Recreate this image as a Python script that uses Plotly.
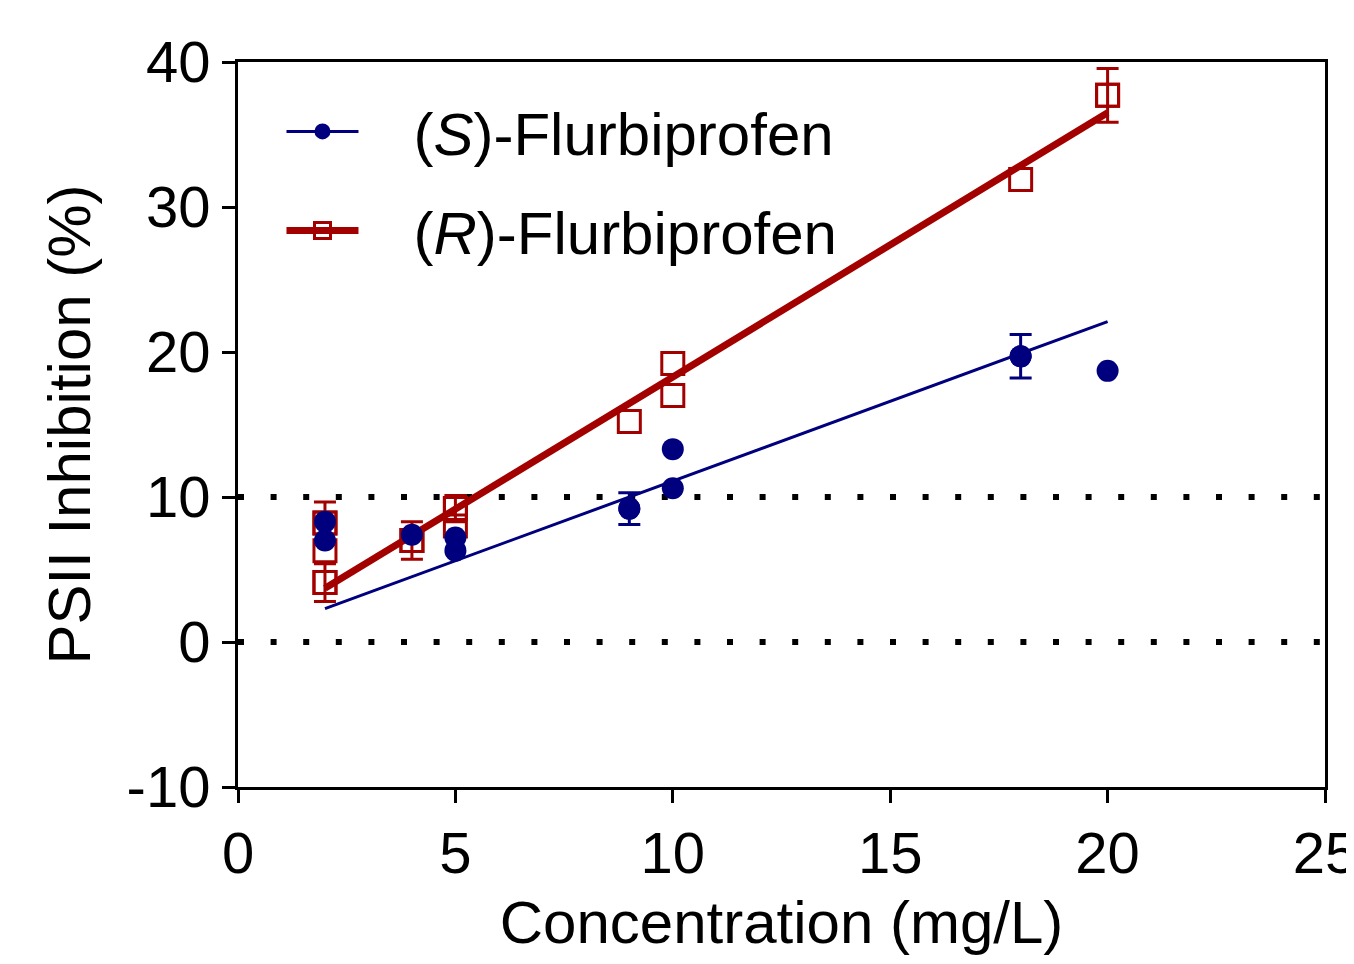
import plotly.graph_objects as go

# ---- data ----
s_x = [2, 2, 4, 5, 5, 9, 10, 10, 18, 20]
s_y = [8.3, 7.0, 7.4, 7.2, 6.3, 9.2, 13.3, 10.6, 19.7, 18.7]
s_err = [0, 0, 0, 0, 0, 1.1, 0, 0, 1.5, 0]

r_x = [2, 2, 2, 4, 5, 5, 9, 10, 10, 18, 20]
r_y = [8.2, 6.3, 4.1, 7.0, 9.2, 8.0, 15.2, 19.2, 17.0, 31.9, 37.7]
r_err = [1.45, 0, 1.3, 1.3, 0.9, 0, 0, 0, 0, 0, 1.85]

fit_x = [2, 20]
s_fit = [2.3, 22.1]
r_fit = [3.7, 36.5]

ref_levels = [0, 10]

x_ticks = [0, 5, 10, 15, 20, 25]
x_tick_labels = ["0", "5", "10", "15", "20", "25"]
y_ticks = [-10, 0, 10, 20, 30, 40]
y_tick_labels = ["-10", "0", "10", "20", "30", "40"]

s_name = "&nbsp;&nbsp;&nbsp;(<i>S</i>)-Flurbiprofen"
r_name = "&nbsp;&nbsp;&nbsp;(<i>R</i>)-Flurbiprofen"

NAVY = "#00007f"
RED = "#a30000"
FONT = "Liberation Sans, Arial, sans-serif"

fig = go.Figure()

# reference dotted lines
for lv in ref_levels:
    fig.add_shape(type="line", xref="x", yref="y", x0=0, x1=25, y0=lv, y1=lv,
                  line=dict(color="black", width=6, dash="6px,26.6px"), layer="below")

# fit lines
fig.add_trace(go.Scatter(x=fit_x, y=s_fit, mode="lines", line=dict(color=NAVY, width=3),
                         showlegend=False, hoverinfo="skip"))
fig.add_trace(go.Scatter(x=fit_x, y=r_fit, mode="lines", line=dict(color=RED, width=7),
                         showlegend=False, hoverinfo="skip"))

def with_err(xs, ys, es):
    xx, yy, ee = [], [], []
    for a, b, c in zip(xs, ys, es):
        if c > 0:
            xx.append(a); yy.append(b); ee.append(c)
    return xx, yy, ee

s_marker = dict(symbol="circle", size=22, color=NAVY, line=dict(width=0))
r_marker = dict(symbol="square-open", size=22, color=RED, line=dict(width=3, color=RED))

# R points
fig.add_trace(go.Scatter(x=r_x, y=r_y, mode="markers", marker=r_marker, showlegend=False))
rx, ry, re_ = with_err(r_x, r_y, r_err)
fig.add_trace(go.Scatter(x=rx, y=ry, mode="markers", marker=r_marker, showlegend=False,
                         error_y=dict(type="data", array=re_, color=RED, thickness=3, width=11)))

# S points
fig.add_trace(go.Scatter(x=s_x, y=s_y, mode="markers", marker=s_marker, showlegend=False))
sx, sy, se = with_err(s_x, s_y, s_err)
fig.add_trace(go.Scatter(x=sx, y=sy, mode="markers", marker=s_marker, showlegend=False,
                         error_y=dict(type="data", array=se, color=NAVY, thickness=3, width=11)))

# legend entries
fig.add_trace(go.Scatter(x=[None], y=[None], mode="lines+markers", name=s_name,
                         line=dict(color=NAVY, width=3), marker=dict(symbol="circle", size=20, color=NAVY),
                         legendgroup="s"))
fig.add_trace(go.Scatter(x=[None], y=[None], mode="lines+markers", name=r_name,
                         line=dict(color=RED, width=7),
                         marker=dict(symbol="square-open", size=20, color=RED, line=dict(width=3, color=RED)),
                         legendgroup="r"))

axis_common = dict(showgrid=False, zeroline=False, showline=True, linecolor="black", linewidth=3,
                   mirror=True, ticks="outside", ticklen=13, tickwidth=3, tickcolor="black",
                   automargin=False,
                   tickfont=dict(family=FONT, size=58, color="black"))

fig.update_layout(
    width=1338, height=948,
    margin=dict(l=230, r=21, t=54, b=169, autoexpand=False),
    paper_bgcolor="white", plot_bgcolor="white",
    font=dict(family=FONT, color="black"),
    xaxis=dict(range=[0, 25], tickvals=x_ticks, ticktext=x_tick_labels, ticklabeloverflow="allow",
               title=dict(text="Concentration (mg/L)", font=dict(family=FONT, size=60), standoff=24),
               **axis_common),
    yaxis=dict(range=[-10, 40], tickvals=y_ticks, ticktext=y_tick_labels,
               title=dict(text="PSII Inhibition (%)", font=dict(family=FONT, size=60), standoff=17),
               **axis_common),
    legend=dict(x=0.04, y=0.967, xanchor="left", yanchor="top", bgcolor="rgba(0,0,0,0)",
                font=dict(family=FONT, size=60, color="black"), tracegroupgap=18,
                itemwidth=72),
    showlegend=True,
)

fig.write_html("out.html")
